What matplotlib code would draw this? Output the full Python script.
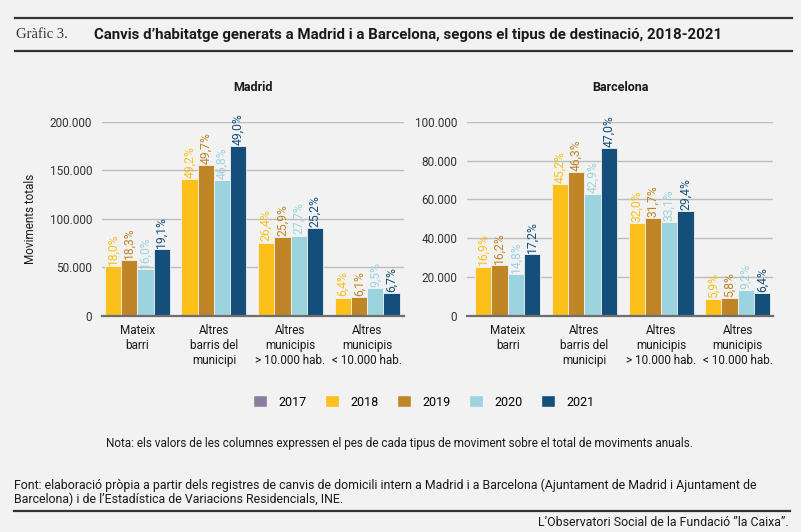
import numpy as np
import matplotlib
matplotlib.use("Agg")
import matplotlib.pyplot as plt
from matplotlib.patches import Patch

# categories and years
categories = ["Mateix\nbarri", "Altres\nbarris del\nmunicipi",
              "Altres\nmunicipis\n> 10.000 hab.", "Altres\nmunicipis\n< 10.000 hab."]
years = ["2017", "2018", "2019", "2020", "2021"]
bar_years = ["2018", "2019", "2020", "2021"]

# values (moviments totals)
madrid_2018 = [51500, 140700, 75500, 18900]
madrid_2019 = [57600, 155400, 81600, 19600]
madrid_2020 = [48000, 140000, 82700, 28500]
madrid_2021 = [68600, 175000, 90200, 24000]

barcelona_2018 = [25400, 67800, 48000, 8900]
barcelona_2019 = [26100, 73900, 50600, 9300]
barcelona_2020 = [21600, 62800, 48200, 13500]
barcelona_2021 = [31700, 86300, 54000, 12000]

# percentage labels
madrid_pct_2018 = ["18,0%", "49,2%", "26,4%", "6,4%"]
madrid_pct_2019 = ["18,3%", "49,7%", "25,9%", "6,1%"]
madrid_pct_2020 = ["16,0%", "46,8%", "27,7%", "9,5%"]
madrid_pct_2021 = ["19,1%", "49,0%", "25,2%", "6,7%"]

barcelona_pct_2018 = ["16,9%", "45,2%", "32,0%", "5,9%"]
barcelona_pct_2019 = ["16,2%", "46,3%", "31,7%", "5,8%"]
barcelona_pct_2020 = ["14,8%", "42,9%", "33,1%", "9,2%"]
barcelona_pct_2021 = ["17,2%", "47,0%", "29,4%", "6,4%"]

madrid_ticks = [0, 50000, 100000, 150000, 200000]
barcelona_ticks = [0, 20000, 40000, 60000, 80000, 100000]

colors = {"2017": "#8a7ea0", "2018": "#fdbf1a", "2019": "#c08527",
          "2020": "#9bd3de", "2021": "#134f7a"}
bg = "#f2f2f2"
txt = "#1a1a1a"

FONT = ["Roboto", "DejaVu Sans"]

W, H = 801, 532
fig = plt.figure(figsize=(W / 100, H / 100), dpi=100)
fig.patch.set_facecolor(bg)


def fx(px):
    return px / W


def fy(py):
    return 1 - py / H


def fmt_thousands(v):
    return "{:,}".format(int(v)).replace(",", ".")


def fit_width(t, target_px):
    # shrink or grow a text so that it spans target_px pixels
    r = fig.canvas.get_renderer()
    w = t.get_window_extent(r).width
    t.set_fontsize(t.get_fontsize() * target_px / w)


def draw_panel(ax, title, series, pct, ticks, ymax, xlim):
    ax.set_facecolor(bg)
    x = np.arange(len(categories))
    bw = 0.212
    for j, (yr, vals, labs) in enumerate(zip(bar_years, series, pct)):
        xs = x + (j - 1.5) * bw
        ax.bar(xs, vals, width=bw, color=colors[yr], edgecolor=bg, linewidth=0.6, zorder=3)
        for xi, v, lab in zip(xs, vals, labs):
            ax.text(xi, v + ymax * 0.006, lab, rotation=90, ha="center", va="bottom",
                    color=colors[yr], fontsize=8.7, family=FONT, zorder=4, clip_on=False)
    ax.set_ylim(0, ymax)
    ax.set_xlim(*xlim)
    ax.set_yticks(ticks)
    ax.set_yticklabels([fmt_thousands(t) for t in ticks], fontsize=8.5, color="#333333", family=FONT)
    ax.set_xticks(x)
    ax.set_xticklabels(categories, fontsize=8.5, color=txt, family=FONT, linespacing=1.2)
    ax.tick_params(axis="y", length=0, pad=7)
    ax.tick_params(axis="x", length=0, pad=6)
    ax.yaxis.grid(True, color="#bdbdbd", linewidth=1, zorder=0)
    for s in ["top", "right", "left"]:
        ax.spines[s].set_visible(False)
    ax.spines["bottom"].set_color("#6e6e6e")
    ax.spines["bottom"].set_linewidth(1.6)
    ax.spines["bottom"].set_zorder(5)
    ax.set_title(title, fontsize=9, fontweight="bold", color=txt, family=FONT, pad=22)


ax1 = fig.add_axes([fx(102), fy(316), fx(302), (316 - 121.7) / H])
draw_panel(ax1, "Madrid",
           [madrid_2018, madrid_2019, madrid_2020, madrid_2021],
           [madrid_pct_2018, madrid_pct_2019, madrid_pct_2020, madrid_pct_2021],
           madrid_ticks, 200000, (-0.46, 3.48))
ax1.set_ylabel("Moviments totals", fontsize=8.5, color=txt, family=FONT, labelpad=9)

ax2 = fig.add_axes([fx(467), fy(316), fx(306), (316 - 121.7) / H])
draw_panel(ax2, "Barcelona",
           [barcelona_2018, barcelona_2019, barcelona_2020, barcelona_2021],
           [barcelona_pct_2018, barcelona_pct_2019, barcelona_pct_2020, barcelona_pct_2021],
           barcelona_ticks, 100000, (-0.53, 3.46))

# header
fig.add_artist(plt.Line2D([fx(15), fx(792)], [fy(18), fy(18)], color="#333333", lw=1.6))
fig.add_artist(plt.Line2D([fx(15), fx(792)], [fy(51), fy(51)], color="#333333", lw=1.6))
t = fig.text(fx(16), fy(35), "Gràfic 3.", fontsize=11, family=["Liberation Serif", "DejaVu Serif"],
             color="#333333", va="center", ha="left")
fit_width(t, 52)
t = fig.text(fx(94), fy(35), "Canvis d\u2019habitatge generats a Madrid i a Barcelona, segons el tipus de destinació, 2018-2021",
             fontsize=10, fontweight="bold", family=FONT, color=txt, va="center", ha="left")
fit_width(t, 631)

# legend
handles = [Patch(facecolor=colors[y], edgecolor=bg, label=y) for y in years]
fig.legend(handles=handles, loc="center", bbox_to_anchor=(fx(424), fy(402)), ncol=5,
           frameon=False, prop={"family": FONT, "size": 9}, handlelength=1.1,
           handleheight=1.1, handletextpad=0.9, columnspacing=1.5)

# footer
t = fig.text(fx(400), fy(443), "Nota: els valors de les columnes expressen el pes de cada tipus de moviment sobre el total de moviments anuals.",
             fontsize=8.5, family=FONT, color=txt, ha="center", va="center")
fit_width(t, 585)
t = fig.text(fx(14), fy(485), "Font: elaboració pròpia a partir dels registres de canvis de domicili intern a Madrid i a Barcelona (Ajuntament de Madrid i Ajuntament de",
             fontsize=9, family=FONT, color=txt, ha="left", va="center")
fit_width(t, 753)
fs_font = t.get_fontsize()
fig.text(fx(14), fy(499), "Barcelona) i de l\u2019Estadística de Variacions Residencials, INE.",
         fontsize=fs_font, family=FONT, color=txt, ha="left", va="center")
fig.add_artist(plt.Line2D([fx(14), fx(790)], [fy(511), fy(511)], color="#333333", lw=1.6))
t = fig.text(fx(789), fy(522), "L\u2019Observatori Social de la Fundació \u201dla Caixa\u201d.",
             fontsize=fs_font, family=FONT, color=txt, ha="right", va="center")

fig.savefig("out.png", dpi=100, facecolor=bg)
